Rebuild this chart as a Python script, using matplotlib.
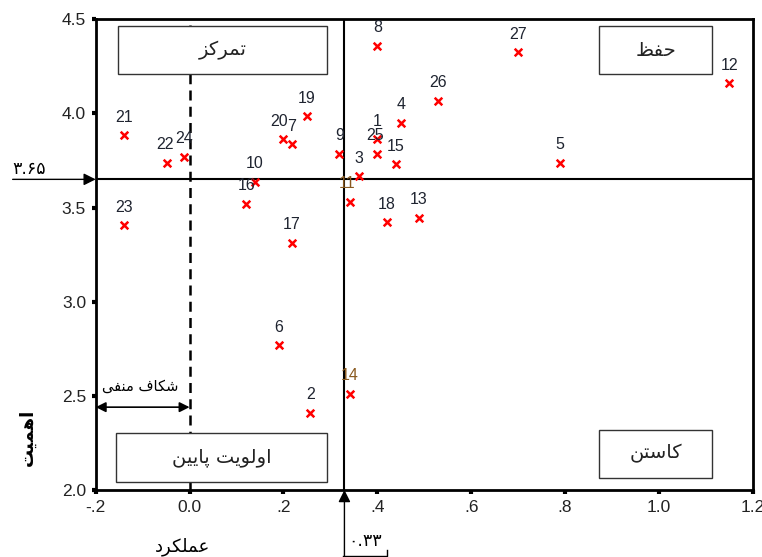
import matplotlib
matplotlib.use("Agg")
import matplotlib.pyplot as plt
from matplotlib.patches import Rectangle

plt.rcParams['font.family'] = ['Liberation Sans', 'DejaVu Sans']

# data
ids = list(range(1, 28))
perf = [0.400, 0.257, 0.360, 0.450, 0.790, 0.190, 0.218, 0.400, 0.319, 0.139,
        0.341, 1.150, 0.489, 0.341, 0.439, 0.121, 0.218, 0.421, 0.250, 0.200,
        -0.140, -0.048, -0.140, -0.012, 0.400, 0.529, 0.700]
imp = [3.862, 2.410, 3.667, 3.950, 3.737, 2.768, 3.837, 4.360, 3.787, 3.636,
       3.530, 4.160, 3.447, 2.511, 3.730, 3.521, 3.314, 3.423, 3.986, 3.862,
       3.885, 3.737, 3.406, 3.769, 3.787, 4.067, 4.324]
label_dx = {20: -4, 11: -3, 25: -2, 22: -2}
brown_labels = [11, 14]

perf_mean = 0.33
imp_mean = 3.65

xticks = [-0.2, 0.0, 0.2, 0.4, 0.6, 0.8, 1.0, 1.2]
xticklabels = ['-.2', '0.0', '.2', '.4', '.6', '.8', '1.0', '1.2']
yticks = [2.0, 2.5, 3.0, 3.5, 4.0, 4.5]
yticklabels = ['2.0', '2.5', '3.0', '3.5', '4.0', '4.5']

# quadrant boxes: (text, x0, x1, y0, y1)
boxes = [
    ('تمرکز', -0.152, 0.293, 4.209, 4.464),
    ('حفظ', 0.873, 1.113, 4.207, 4.464),
    ('اولویت پایین', -0.157, 0.293, 2.040, 2.301),
    ('کاستن', 0.873, 1.113, 2.064, 2.321),
]

# simple persian shaping: isolated, final, initial, medial
FORMS = {
    'ا': ('\ufe8d', '\ufe8e', None, None),
    'د': ('\ufea9', '\ufeaa', None, None),
    'ر': ('\ufead', '\ufeae', None, None),
    'ز': ('\ufeaf', '\ufeb0', None, None),
    'و': ('\ufeed', '\ufeee', None, None),
    'ت': ('\ufe95', '\ufe96', '\ufe97', '\ufe98'),
    'م': ('\ufee1', '\ufee2', '\ufee3', '\ufee4'),
    'ک': ('\ufb8e', '\ufb8f', '\ufb90', '\ufb91'),
    'ح': ('\ufea1', '\ufea2', '\ufea3', '\ufea4'),
    'ف': ('\ufed1', '\ufed2', '\ufed3', '\ufed4'),
    'ظ': ('\ufec5', '\ufec6', '\ufec7', '\ufec8'),
    'ل': ('\ufedd', '\ufede', '\ufedf', '\ufee0'),
    'ی': ('\ufbfc', '\ufbfd', '\ufbfe', '\ufbff'),
    'پ': ('\ufb56', '\ufb57', '\ufb58', '\ufb59'),
    'ن': ('\ufee5', '\ufee6', '\ufee7', '\ufee8'),
    'س': ('\ufeb1', '\ufeb2', '\ufeb3', '\ufeb4'),
    'ش': ('\ufeb5', '\ufeb6', '\ufeb7', '\ufeb8'),
    'ع': ('\ufec9', '\ufeca', '\ufecb', '\ufecc'),
    'ه': ('\ufee9', '\ufeea', '\ufeeb', '\ufeec'),
}


def fa(s):
    out = []
    for i, c in enumerate(s):
        if c not in FORMS:
            out.append(c)
            continue
        prev = s[i - 1] if i > 0 else ' '
        nxt = s[i + 1] if i + 1 < len(s) else ' '
        join_prev = prev in FORMS and FORMS[prev][2] is not None
        join_next = FORMS[c][2] is not None and nxt in FORMS
        iso, fin, ini, med = FORMS[c]
        if join_prev and join_next:
            out.append(med)
        elif join_prev:
            out.append(fin)
        elif join_next:
            out.append(ini)
        else:
            out.append(iso)
    return ''.join(out)[::-1]


fig = plt.figure(figsize=(7.62, 5.57), dpi=100)
ax = fig.add_axes([0.1256, 0.1203, 0.8622, 0.845])
ax.set_xlim(-0.2, 1.2)
ax.set_ylim(2.0, 4.5)

ax.axvline(0.0, color='black', lw=1.8, ls=(0, (4, 2.5)), zorder=1)
ax.axvline(perf_mean, color='black', lw=1.5, zorder=2)
ax.axhline(imp_mean, color='black', lw=1.5, zorder=2)

for txt, x0, x1, y0, y1 in boxes:
    ax.add_patch(Rectangle((x0, y0), x1 - x0, y1 - y0, facecolor='white',
                           edgecolor='#333333', lw=1.0, zorder=3))
    ax.text((x0 + x1) / 2, (y0 + y1) / 2, fa(txt), ha='center', va='center',
            fontsize=14, color='#222222', zorder=4, family='DejaVu Sans')

ax.scatter(perf, imp, marker='x', color='red', s=30, linewidths=1.8, zorder=5)
for i, x, y in zip(ids, perf, imp):
    col = '#8a5a20' if i in brown_labels else '#1f2430'
    ax.annotate(str(i), (x, y), xytext=(label_dx.get(i, 0) / 1.389, 13),
                textcoords='offset points', ha='center', va='center',
                fontsize=11.5, color=col, zorder=6)

# negative gap arrow
ax.annotate('', xy=(-0.2, 2.44), xytext=(0.0, 2.44),
            arrowprops=dict(arrowstyle='<|-|>', color='black', lw=1.2,
                            mutation_scale=15, shrinkA=0, shrinkB=0))
ax.text(-0.105, 2.55, fa('شکاف منفی'), ha='center', va='center', fontsize=10.5,
        family='DejaVu Sans')

# mean markers outside the axes
ax.annotate('', xy=(-0.2, imp_mean), xytext=(-0.377, imp_mean),
            arrowprops=dict(arrowstyle='-|>', color='black', lw=1.0,
                            mutation_scale=18, shrinkA=0, shrinkB=0),
            annotation_clip=False)
fig.text(29 / 762, 1 - 169 / 557, '\u06f3.\u06f6\u06f5', ha='center', va='center',
         fontsize=12.5, family='DejaVu Sans')
ax.annotate('', xy=(perf_mean, 2.0), xytext=(perf_mean, 1.64),
            arrowprops=dict(arrowstyle='-|>', color='black', lw=1.0,
                            mutation_scale=18, shrinkA=0, shrinkB=0),
            annotation_clip=False)
fig.add_artist(plt.Line2D([343 / 762, 387 / 762, 387 / 762],
                          [1 - 556 / 557, 1 - 556 / 557, 1 - 550 / 557],
                          color='black', lw=1.0))
fig.text(365 / 762, 1 - 541 / 557, '\u06f0.\u06f3\u06f3', ha='center', va='center',
         fontsize=12.5, family='DejaVu Sans')

ax.set_xticks(xticks)
ax.set_xticklabels(xticklabels)
ax.set_yticks(yticks)
ax.set_yticklabels(yticklabels)
ax.tick_params(direction='out', length=3, width=3, labelsize=12.5,
               labelcolor='#222222', pad=4)
for sp in ax.spines.values():
    sp.set_linewidth(2)

fig.text(182 / 762, 1 - 547 / 557, fa('عملکرد'), ha='center', va='center',
         fontsize=13, family='DejaVu Sans')
fig.text(28 / 762, 1 - 437 / 557, fa('اهمیت'), ha='center', va='center',
         fontsize=13, rotation=90, fontweight='bold', family='DejaVu Sans')

fig.savefig('out.png', dpi=100)
